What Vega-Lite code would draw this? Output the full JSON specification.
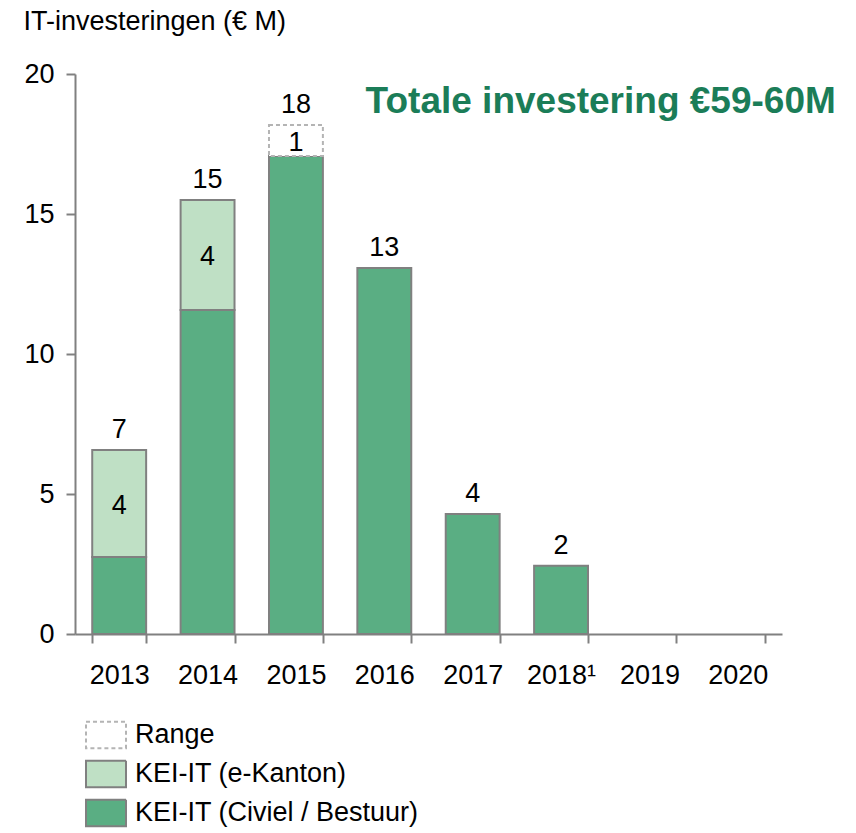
{
  "$schema": "https://vega.github.io/schema/vega-lite/v6.json",
  "width": 707,
  "height": 560,
  "autosize": {"type": "none"},
  "padding": {"left": 75, "top": 74, "right": 74, "bottom": 199},
  "background": "white",
  "config": {
    "view": {"stroke": null},
    "font": "Liberation Sans",
    "text": {"font": "Liberation Sans"}
  },
  "data": {
    "values": [
      {"year": "2013", "series": "KEI-IT (Civiel / Bestuur)", "value": 2.75, "seg_label": "", "total_label": "7"},
      {"year": "2013", "series": "KEI-IT (e-Kanton)", "value": 3.82, "seg_label": "4", "total_label": "7"},
      {"year": "2014", "series": "KEI-IT (Civiel / Bestuur)", "value": 11.57, "seg_label": "", "total_label": "15"},
      {"year": "2014", "series": "KEI-IT (e-Kanton)", "value": 3.93, "seg_label": "4", "total_label": "15"},
      {"year": "2015", "series": "KEI-IT (Civiel / Bestuur)", "value": 17.07, "seg_label": "", "total_label": "18"},
      {"year": "2015", "series": "Range", "value": 1.11, "seg_label": "1", "total_label": "18"},
      {"year": "2016", "series": "KEI-IT (Civiel / Bestuur)", "value": 13.07, "seg_label": "", "total_label": "13"},
      {"year": "2017", "series": "KEI-IT (Civiel / Bestuur)", "value": 4.29, "seg_label": "", "total_label": "4"},
      {"year": "2018¹", "series": "KEI-IT (Civiel / Bestuur)", "value": 2.44, "seg_label": "", "total_label": "2"}
    ]
  },
  "encoding": {
    "x": {
      "field": "year",
      "type": "nominal",
      "scale": {
        "domain": ["2013", "2014", "2015", "2016", "2017", "2018¹", "2019", "2020"],
        "paddingInner": 0.39,
        "paddingOuter": 0.195
      },
      "axis": {
        "title": null,
        "labelAngle": 0,
        "labelFont": "Liberation Sans",
        "labelFontSize": 27,
        "labelColor": "#000000",
        "labelPadding": 19,
        "tickBand": "extent",
        "tickColor": "#808080",
        "tickWidth": 2,
        "tickSize": 9,
        "domainColor": "#808080",
        "domainWidth": 2,
        "grid": false
      }
    }
  },
  "layer": [
    {
      "transform": [
        {"stack": "value", "groupby": ["year"], "sort": [{"field": "series", "order": "ascending"}], "as": ["v0", "v1"]}
      ],
      "mark": {"type": "bar", "strokeWidth": 2},
      "encoding": {
        "y": {
          "field": "v0",
          "type": "quantitative",
          "scale": {"domain": [0, 20]},
          "axis": {
            "title": "IT-investeringen (€ M)",
            "titleAngle": 0,
            "titleAlign": "left",
            "titleBaseline": "middle",
            "titleX": -52,
            "titleY": -53,
            "titleFont": "Liberation Sans",
            "titleFontSize": 27,
            "titleFontWeight": "normal",
            "titleColor": "#000000",
            "values": [0, 5, 10, 15, 20],
            "labelFont": "Liberation Sans",
            "labelFontSize": 27,
            "labelColor": "#000000",
            "labelPadding": 12,
            "tickColor": "#808080",
            "tickWidth": 2,
            "tickSize": 9,
            "domainColor": "#808080",
            "domainWidth": 2,
            "grid": false
          }
        },
        "y2": {"field": "v1"},
        "fill": {
          "field": "series",
          "type": "nominal",
          "scale": {
            "domain": ["Range", "KEI-IT (e-Kanton)", "KEI-IT (Civiel / Bestuur)"],
            "range": ["#ffffff", "#bfe0c5", "#5aae83"]
          },
          "legend": {
            "title": null,
            "orient": "none",
            "legendX": 10,
            "legendY": 640,
            "direction": "vertical",
            "symbolType": "M-1,-0.66H1V0.66H-1Z",
            "symbolSize": 1600,
            "symbolStrokeWidth": 2,
            "labelFont": "Liberation Sans",
            "labelFontSize": 27,
            "labelColor": "#000000",
            "labelOffset": 8,
            "rowPadding": 0,
            "labelLimit": 400
          }
        },
        "stroke": {
          "field": "series",
          "type": "nominal",
          "scale": {
            "domain": ["Range", "KEI-IT (e-Kanton)", "KEI-IT (Civiel / Bestuur)"],
            "range": ["#b4b4b4", "#808080", "#808080"]
          },
          "legend": {
            "title": null,
            "orient": "none",
            "legendX": 10,
            "legendY": 640,
            "direction": "vertical",
            "symbolType": "M-1,-0.66H1V0.66H-1Z",
            "symbolSize": 1600,
            "symbolStrokeWidth": 2,
            "labelFont": "Liberation Sans",
            "labelFontSize": 27,
            "labelColor": "#000000",
            "labelOffset": 8,
            "rowPadding": 0,
            "labelLimit": 400
          }
        },
        "strokeDash": {
          "field": "series",
          "type": "nominal",
          "scale": {
            "domain": ["Range", "KEI-IT (e-Kanton)", "KEI-IT (Civiel / Bestuur)"],
            "range": [[4, 3], [1, 0], [1, 0]]
          },
          "legend": {
            "title": null,
            "orient": "none",
            "legendX": 10,
            "legendY": 640,
            "direction": "vertical",
            "symbolType": "M-1,-0.66H1V0.66H-1Z",
            "symbolSize": 1600,
            "symbolStrokeWidth": 2,
            "labelFont": "Liberation Sans",
            "labelFontSize": 27,
            "labelColor": "#000000",
            "labelOffset": 8,
            "rowPadding": 0,
            "labelLimit": 400
          }
        }
      }
    },
    {
      "transform": [
        {"stack": "value", "groupby": ["year"], "sort": [{"field": "series", "order": "ascending"}], "as": ["v0", "v1"]},
        {"filter": "datum.seg_label != ''"},
        {"calculate": "(datum.v0 + datum.v1) / 2", "as": "mid"}
      ],
      "mark": {"type": "text", "fontSize": 27, "fill": "#000000", "baseline": "alphabetic", "dy": 10},
      "encoding": {
        "y": {"field": "mid", "type": "quantitative"},
        "text": {"field": "seg_label"}
      }
    },
    {
      "transform": [
        {"aggregate": [{"op": "sum", "field": "value", "as": "total"}], "groupby": ["year", "total_label"]}
      ],
      "mark": {"type": "text", "fontSize": 27, "fill": "#000000", "baseline": "alphabetic", "dy": -12},
      "encoding": {
        "y": {"field": "total", "type": "quantitative"},
        "text": {"field": "total_label"}
      }
    },
    {
      "data": {"values": [{"headline": "Totale investering €59-60M"}]},
      "mark": {"type": "text", "fontSize": 37, "fontWeight": "bold", "fill": "#1b7d58", "align": "right", "baseline": "alphabetic", "dx": 98, "dy": 11},
      "encoding": {
        "x": {"datum": "2020"},
        "y": {"datum": 19},
        "text": {"field": "headline"}
      }
    }
  ]
}
